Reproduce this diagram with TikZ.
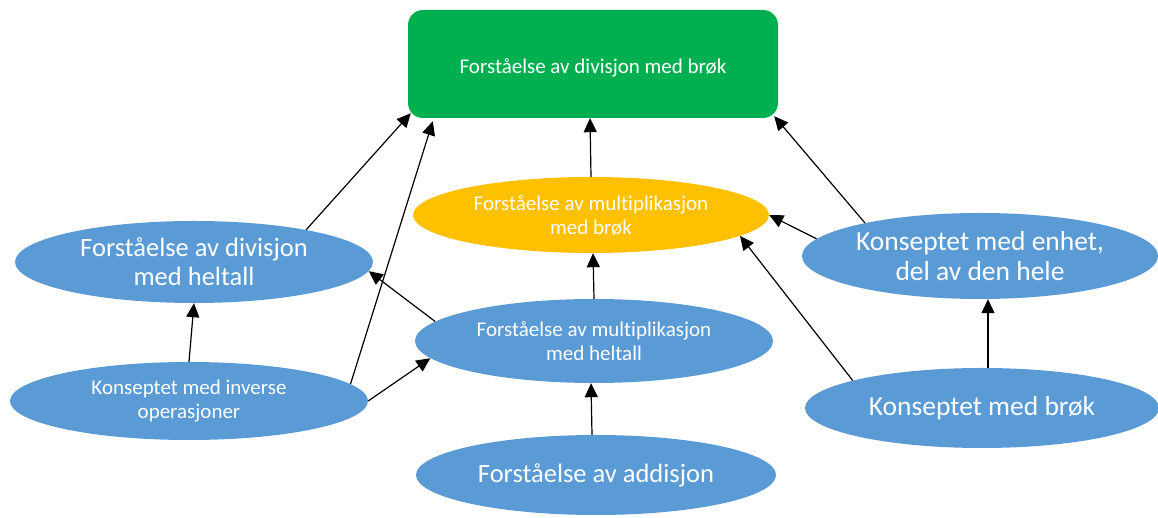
\documentclass[tikz,border=0pt]{standalone}
\usepackage{fontspec}
\setmainfont{Carlito}[Ligatures=NoCommon]
\usetikzlibrary{arrows.meta,calc,shapes.geometric}
\definecolor{cgreen}{HTML}{00B050}
\definecolor{cyel}{HTML}{FFC000}
\definecolor{cblue}{HTML}{5B9BD5}
\tikzset{
  bub/.style={ellipse,fill=cblue,text=white,inner sep=0pt,align=center},
  ybub/.style={bub,fill=cyel},
  fgoal/.style={font=\fontsize{21}{24}\selectfont},
  fsmall/.style={font=\fontsize{21}{24}\selectfont},
  fbig/.style={font=\fontsize{26.5}{29}\selectfont},
  fhuge/.style={font=\fontsize{27.5}{30}\selectfont},
  con/.style={draw=black,line width=1.2pt,-{Triangle[length=14pt,width=13pt]}}
}
\begin{document}
\begin{tikzpicture}[x=1pt,y=1pt]
\useasboundingbox[fill=white] (0,0) rectangle (1158,518);
\node[rectangle,rounded corners=15pt,fill=cgreen,text=white,minimum width=370pt,minimum height=108pt,inner sep=0pt,fgoal] (goal) at (593,454) {\raisebox{-4pt}[\height][\depth]{Forståelse av divisjon med brøk}};
\node[ybub,fsmall,minimum width=356pt,minimum height=76pt] (yel) at (591,303) {Forståelse av multiplikasjon\\med brøk};
\node[bub,fbig,minimum width=358pt,minimum height=82pt] (divh) at (194,256) {Forståelse av divisjon\\med heltall};
\node[bub,fsmall,minimum width=358pt,minimum height=78pt] (inv) at (189,117) {Konseptet med inverse\\operasjoner};
\node[bub,fsmall,minimum width=358pt,minimum height=84pt] (multh) at (594,177) {Forståelse av multiplikasjon\\med heltall};
\node[bub,fbig,minimum width=360pt,minimum height=80pt] (add) at (596,43) {Forståelse av addisjon};
\node[bub,fhuge,minimum width=356pt,minimum height=86pt] (enh) at (980,262) {Konseptet med enhet,\\del av den hele};
\node[bub,fhuge,minimum width=354pt,minimum height=80pt] (brok) at (982,110) {Konseptet med brøk};

\draw[con] (divh.16) -- ($(goal.south west)+(3,5)$);
\draw[con] (inv.6) -- ($(goal.south west)+(25,-3)$);
\draw[con] (inv.east) -- (multh.186);
\draw[con] (multh.173) -- (divh.357);
\draw[con] (inv.north) -- (divh.south);
\draw[con] ($(add.north)+(-4,0)$) -- ($(multh.south)+(-3,0)$);
\draw[con] (multh.north) -- ($(yel.south)+(2,0)$);
\draw[con] (yel.north) -- ($(goal.south)+(-3,0)$);
\draw[con] (enh.164) -- ($(goal.south east)+(-4,2)$);
\draw[con] (enh.174) -- (yel.east);
\draw[con] (brok.168) -- (yel.352);
\draw[con] ($(brok.north)+(6,0)$) -- ($(enh.south)+(8,0)$);
\end{tikzpicture}
\end{document}
